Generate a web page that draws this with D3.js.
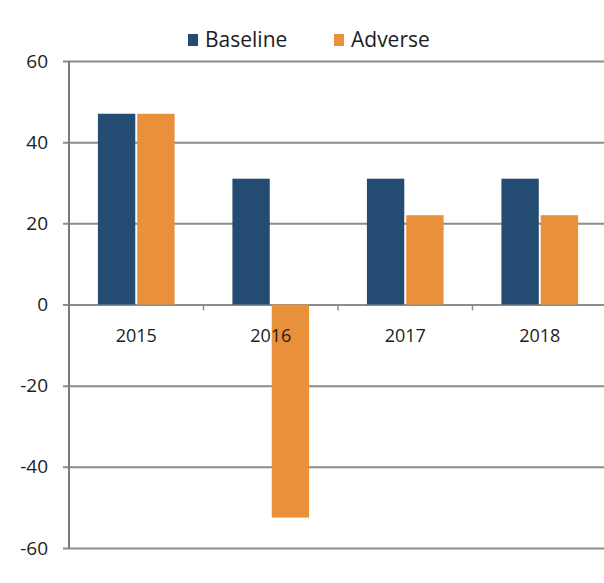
<!DOCTYPE html>
<html>
<head>
<meta charset="utf-8">
<script src="https://cdn.jsdelivr.net/npm/d3@7"></script>
<style>
  body { margin: 0; background: #fff; }
  text { font-family: "Open Sans", "Liberation Sans", sans-serif; fill: #1c1c24; }
</style>
</head>
<body>
<script>
// chart data
var years = ["2015", "2016", "2017", "2018"];
var baseline = [47, 31, 31, 31];
var adverse = [47, -52.5, 22, 22];
var seriesNames = ["Baseline", "Adverse"];
var yTicks = [-60, -40, -20, 0, 20, 40, 60];

// layout
var p = {
    width: 604,
    height: 583,
    left: 69,
    right: 607,
    top: 61,
    bottom: 548,
    navy: "#244b72",
    orange: "#e8913a",
    grid: "#8c8c8c"
};

var svg = d3.select("body").append("svg").attr("width", p.width).attr("height", p.height);

var y = d3.scaleLinear().domain([-60, 60]).range([p.bottom, p.top]);
var x = d3.scaleBand().domain(years).range([p.left, p.right]).paddingInner(0.43).paddingOuter(0.215);
var xs = d3.scaleBand().domain(seriesNames).range([0, x.bandwidth()]).paddingInner(0.05);

// gridlines + y axis (plain hyphen for negatives, like the original)
var yAxis = d3.axisLeft(y).tickValues(yTicks).tickSize(-(p.right - p.left)).tickPadding(21)
    .tickFormat(function(d) { return String(d); });
var ga = svg.append("g").attr("transform", "translate(" + p.left + ",0)").call(yAxis);
ga.select(".domain").remove();
ga.selectAll(".tick line").attr("stroke", p.grid).attr("stroke-width", 2).attr("x1", -6);
ga.selectAll(".tick text").style("font-size", "19px").attr("fill", "#1c1c24");

// bars
var rows = years.map(function(d, i) { return {year: d, vals: [baseline[i], adverse[i]]}; });
var colors = [p.navy, p.orange];
var groups = svg.append("g").selectAll("g").data(rows).join("g")
    .attr("transform", function(d) { return "translate(" + x(d.year) + ",0)"; });
groups.selectAll("rect").data(function(d) { return d.vals; }).join("rect")
    .attr("x", function(d, i) { return xs(seriesNames[i]); })
    .attr("width", xs.bandwidth())
    .attr("y", function(d) { return y(Math.max(0, d)); })
    .attr("height", function(d) { return Math.abs(y(d) - y(0)); })
    .attr("fill", function(d, i) { return colors[i]; });

// vertical axis line
svg.append("line").attr("x1", p.left).attr("x2", p.left).attr("y1", p.top).attr("y2", p.bottom)
    .attr("stroke", "#7a7a7a").attr("stroke-width", 2);

// category ticks on zero line
var bounds = years.slice(1).map(function(d) { return x(d) - x.step() * x.paddingInner() / 2; });
svg.append("g").selectAll("line").data(bounds).join("line")
    .attr("x1", function(d) { return d; }).attr("x2", function(d) { return d; })
    .attr("y1", y(0)).attr("y2", y(0) + 6)
    .attr("stroke", p.grid).attr("stroke-width", 1.5);

// category labels
svg.append("g").selectAll("text").data(years).join("text")
    .attr("x", function(d) { return x(d) + x.bandwidth() / 2; })
    .attr("y", y(0) + 37)
    .attr("text-anchor", "middle")
    .style("font-size", "18px")
    .text(function(d) { return d; });

// legend
var legend = svg.append("g").attr("transform", "translate(188,40)");
var items = legend.selectAll("g").data(seriesNames).join("g")
    .attr("transform", function(d, i) { return "translate(" + (i * 146) + ",0)"; });
items.append("rect").attr("x", 0).attr("y", -6).attr("width", 10).attr("height", 12)
    .attr("fill", function(d, i) { return colors[i]; });
items.append("text").attr("x", 17).attr("y", 7).style("font-size", "21px").text(function(d) { return d; });
</script>
</body>
</html>
